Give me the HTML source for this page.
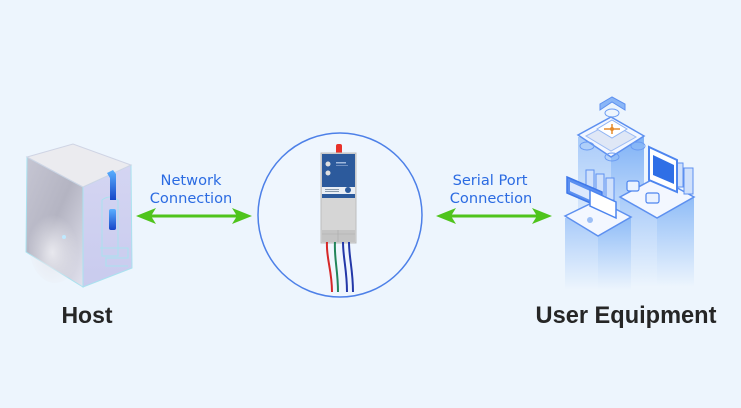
<!DOCTYPE html>
<html><head><meta charset="utf-8"><style>
html,body{margin:0;padding:0;background:#edf5fd;}
svg{display:block;}
</style></head><body>
<svg width="741" height="408" viewBox="0 0 741 408" xmlns="http://www.w3.org/2000/svg">
<defs>
<linearGradient id="lf" x1="0" y1="0" x2="1" y2="1">
<stop offset="0" stop-color="#c6c6d3"/><stop offset="0.5" stop-color="#b4b4c2"/><stop offset="1" stop-color="#e2e2ee"/>
</linearGradient>
<linearGradient id="rf" x1="0" y1="0" x2="0" y2="1">
<stop offset="0" stop-color="#d4d5f2"/><stop offset="1" stop-color="#c9cbee"/>
</linearGradient>
<linearGradient id="bl" x1="0" y1="0" x2="0" y2="1">
<stop offset="0" stop-color="#5ab0ff"/><stop offset="1" stop-color="#1646c8"/>
</linearGradient>
<linearGradient id="pil" x1="0" y1="0" x2="0" y2="1">
<stop offset="0" stop-color="#80b2f6"/><stop offset="0.6" stop-color="#bcd7fa"/><stop offset="1" stop-color="#edf5fd"/>
</linearGradient>
<linearGradient id="pil2" x1="0" y1="0" x2="0" y2="1">
<stop offset="0" stop-color="#8fbcf7"/><stop offset="1" stop-color="#edf5fd"/>
</linearGradient>
<linearGradient id="pil3" x1="0" y1="0" x2="0" y2="1">
<stop offset="0" stop-color="#a9cbf9"/><stop offset="1" stop-color="#edf5fd"/>
</linearGradient>
<radialGradient id="hl" cx="0.45" cy="0.6" r="0.5">
<stop offset="0" stop-color="#e8e8ee"/><stop offset="1" stop-color="#e8e8ee" stop-opacity="0"/>
</radialGradient>
</defs>

<!-- HOST -->
<polygon points="27,157 83,187 83,287 26,252" fill="url(#lf)" stroke="#a9e2ef" stroke-width="1"/>
<ellipse cx="55" cy="245" rx="26" ry="38" fill="url(#hl)"/>
<polygon points="83,187 131,165 132,268 83,287" fill="url(#rf)" stroke="#a9e2ef" stroke-width="1"/>
<polygon points="27,157 73,144 131,165 83,187" fill="#ebebef" stroke="#cfd4e4" stroke-width="1"/>
<path d="M102,200 q8,-6 16,0 v56 h-16 z" fill="none" stroke="#a9e2ef" stroke-width="1"/>
<path d="M100,248 h28 v10 h-22 v8 h22" fill="none" stroke="#a9e2ef" stroke-width="1"/>
<path d="M107,173 l6,-3 l3,4 v26 h-6 v-22 z" fill="url(#bl)"/>
<rect x="109" y="209" width="7" height="21" rx="2" fill="url(#bl)"/>
<circle cx="64" cy="237" r="2" fill="#bfe9ff"/>

<text x="87" y="323" text-anchor="middle" font-family="Liberation Sans, Arial, sans-serif" font-weight="bold" font-size="23" fill="#262626">Host</text>

<!-- Network arrow -->
<text x="191" y="185" text-anchor="middle" font-family="DejaVu Sans, sans-serif" font-size="14.6" fill="#2b6be2">Network</text>
<text x="191" y="203" text-anchor="middle" font-family="DejaVu Sans, sans-serif" font-size="14.6" fill="#2b6be2">Connection</text>
<line x1="150" y1="216" x2="238" y2="216" stroke="#4fc41c" stroke-width="3"/>
<polygon points="136,216 156,208 151,216 156,224" fill="#4fc41c"/>
<polygon points="252,216 232,208 237,216 232,224" fill="#4fc41c"/>

<!-- Circle + device -->
<circle cx="340" cy="215" r="82" fill="#eff6fe" stroke="#4d80e8" stroke-width="1.5"/>
<rect x="336" y="144" width="6" height="11" rx="2" fill="#e8322a"/>
<rect x="321" y="153" width="35" height="90" fill="#d6d6d6" stroke="#bdbdbd" stroke-width="1"/>
<rect x="322" y="154" width="33" height="33" fill="#2c5a9c"/>
<circle cx="328" cy="164" r="2.5" fill="#e0e0e0"/>
<circle cx="328" cy="173" r="2.5" fill="#e0e0e0"/>
<rect x="336" y="162" width="10" height="1.5" fill="#9fb8dd"/>
<rect x="336" y="165" width="12" height="1" fill="#6f8fc0"/>
<rect x="322" y="187" width="33" height="7" fill="#e9eef5"/>
<rect x="325" y="189" width="14" height="1" fill="#8899aa"/>
<rect x="325" y="191" width="14" height="1" fill="#8899aa"/>
<circle cx="348" cy="190" r="3" fill="#2c5a9c"/>
<rect x="322" y="194" width="33" height="4" fill="#2c5a9c"/>
<rect x="322" y="230" width="33" height="12" fill="#c4c4c4"/>
<line x1="322" y1="234" x2="355" y2="234" stroke="#aaa" stroke-width="0.6"/>
<line x1="338" y1="230" x2="338" y2="242" stroke="#aaa" stroke-width="0.6"/>
<path d="M327,242 C326,258 332,270 332,292" fill="none" stroke="#d62828" stroke-width="2"/>
<path d="M335,242 C334,258 338,270 338,292" fill="none" stroke="#22855a" stroke-width="2"/>
<path d="M343,242 C343,258 347,270 347,292" fill="none" stroke="#2438a8" stroke-width="2"/>
<path d="M349,242 C349,258 353,270 353,292" fill="none" stroke="#2438a8" stroke-width="2"/>

<!-- Serial arrow -->
<text x="490" y="185" text-anchor="middle" font-family="DejaVu Sans, sans-serif" font-size="14.6" fill="#2b6be2">Serial Port</text>
<text x="491" y="203" text-anchor="middle" font-family="DejaVu Sans, sans-serif" font-size="14.6" fill="#2b6be2">Connection</text>
<line x1="450" y1="216" x2="538" y2="216" stroke="#4fc41c" stroke-width="3"/>
<polygon points="436,216 456,208 451,216 456,224" fill="#4fc41c"/>
<polygon points="552,216 532,208 537,216 532,224" fill="#4fc41c"/>

<!-- USER EQUIPMENT -->
<!-- top pillar -->
<rect x="578" y="137" width="33" height="110" fill="url(#pil3)"/>
<rect x="611" y="137" width="33" height="110" fill="url(#pil)"/>
<polygon points="578,135 611,117 644,136 611,157" fill="#f3f7ff" stroke="#5d90f0" stroke-width="1.5"/>
<polygon points="586,136 611,123 636,137 611,151" fill="#dfe7f6" stroke="#9dbcf5" stroke-width="1"/>
<!-- drone -->
<polygon points="597,129 612,120 627,129 612,138" fill="#ffffff" stroke="#8fb4f4" stroke-width="1"/>
<line x1="604" y1="129" x2="620" y2="129" stroke="#e58a2a" stroke-width="1.5"/>
<line x1="612" y1="124" x2="612" y2="134" stroke="#e58a2a" stroke-width="1.5"/>
<circle cx="612" cy="129" r="2" fill="#e58a2a"/>
<ellipse cx="587" cy="146" rx="7" ry="4" fill="none" stroke="#6a9bf2" stroke-width="1"/>
<ellipse cx="638" cy="146" rx="7" ry="4" fill="none" stroke="#6a9bf2" stroke-width="1"/>
<ellipse cx="612" cy="113" rx="7" ry="4" fill="none" stroke="#6a9bf2" stroke-width="1"/>
<ellipse cx="612" cy="157" rx="7" ry="4" fill="none" stroke="#6a9bf2" stroke-width="1"/>
<path d="M600,110 l12,-8 l13,8 v-6 l-13,-7 l-12,7 z" fill="#8ab6f7" stroke="#5d90f0" stroke-width="1"/>

<!-- right pillar -->
<rect x="620" y="197" width="37" height="90" fill="url(#pil3)"/>
<rect x="657" y="197" width="37" height="90" fill="url(#pil2)"/>
<polygon points="620,197 657,177 694,197 657,218" fill="#f3f7ff" stroke="#5d90f0" stroke-width="1.5"/>
<!-- servers right -->
<rect x="664" y="158" width="9" height="22" fill="#cfe0fb" stroke="#5d90f0" stroke-width="1"/>
<rect x="674" y="163" width="9" height="24" fill="#cfe0fb" stroke="#5d90f0" stroke-width="1"/>
<rect x="684" y="168" width="9" height="26" fill="#cfe0fb" stroke="#5d90f0" stroke-width="1"/>
<!-- monitor right -->
<polygon points="649,147 677,160 677,192 649,180" fill="#ffffff" stroke="#4d85ef" stroke-width="2"/>
<polygon points="653,155 674,165 674,184 653,175" fill="#2f6fe6"/>
<!-- small stacks -->
<rect x="627" y="181" width="12" height="10" rx="2" fill="#eaf2ff" stroke="#4d85ef" stroke-width="1.2"/>
<rect x="646" y="193" width="13" height="10" rx="2" fill="#eaf2ff" stroke="#4d85ef" stroke-width="1.2"/>

<!-- left pillar -->
<rect x="565" y="218" width="33" height="72" fill="url(#pil3)"/>
<rect x="598" y="218" width="33" height="72" fill="url(#pil2)"/>
<polygon points="565,216 598,200 631,217 598,236" fill="#f3f7ff" stroke="#5d90f0" stroke-width="1.5"/>
<!-- servers left -->
<rect x="586" y="170" width="8" height="20" fill="#cfe0fb" stroke="#5d90f0" stroke-width="1"/>
<rect x="596" y="174" width="8" height="22" fill="#cfe0fb" stroke="#5d90f0" stroke-width="1"/>
<rect x="606" y="178" width="8" height="22" fill="#cfe0fb" stroke="#5d90f0" stroke-width="1"/>
<!-- film strip screen -->
<polygon points="567,177 602,192 602,208 567,193" fill="#5b8ff0" stroke="#3f78ea" stroke-width="1.5"/>
<polygon points="570,182 599,195 599,204 570,191" fill="#dce8fd"/>
<polygon points="590,190 616,202 616,218 590,206" fill="#ffffff" stroke="#4d85ef" stroke-width="1.5"/>
<circle cx="590" cy="220" r="3" fill="#9dbff6"/>

<text x="626" y="323" text-anchor="middle" font-family="Liberation Sans, Arial, sans-serif" font-weight="bold" font-size="23.6" fill="#262626">User Equipment</text>
</svg>
</body></html>
